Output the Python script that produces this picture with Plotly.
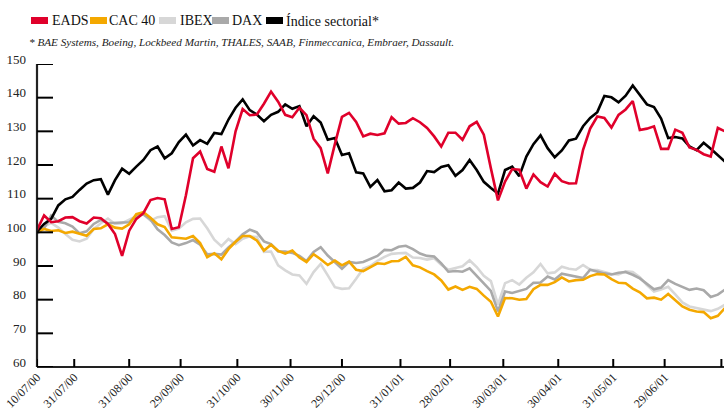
import pandas as pd
import plotly.graph_objects as go

# ---------------- data (4-day sampling) ----------------
start_date = "2000-07-10"
n_points = 98

eads = [100.7, 105.0, 103.0, 103.3, 104.4, 104.5, 103.3, 102.6, 104.4, 104.2,
        102.5, 99.5, 93.0, 100.5, 104.0, 105.7, 109.6, 110.2, 109.8, 101.0,
        101.5, 111.0, 122.0, 124.0, 118.8, 118.0, 125.5, 119.0, 130.0, 136.6,
        134.8, 135.0, 138.2, 141.8, 138.8, 134.9, 134.2, 137.0, 134.8, 127.8,
        125.0, 117.5, 126.2, 134.3, 135.5, 132.8, 128.5, 129.3, 128.9, 129.4,
        134.2, 132.3, 132.5, 133.9, 132.7, 131.0, 128.5, 125.5, 129.6, 129.6,
        127.5, 131.5, 132.8, 129.0, 119.0, 109.5, 115.1, 118.8, 118.6, 113.0,
        117.2, 114.9, 113.6, 117.4, 115.2, 114.5, 114.6, 124.5, 130.8, 134.4,
        134.0, 131.1, 134.9, 136.5, 139.0, 130.4, 130.8, 131.5, 124.8, 124.8,
        130.5, 129.6, 125.2, 124.5, 123.2, 122.5, 131.0, 130.0]

cac40 = [100.2, 101.0, 100.4, 100.6, 99.8, 100.2, 99.6, 99.0, 101.0, 101.2,
         102.4, 101.4, 101.1, 102.4, 105.4, 106.0, 104.3, 102.4, 101.6, 98.5,
         98.3, 98.1, 98.9, 96.8, 92.6, 93.8, 92.0, 95.0, 97.2, 98.9,
         98.9, 97.6, 94.6, 96.3, 94.5, 93.7, 94.6, 92.5, 91.2, 93.5,
         92.0, 90.3, 91.6, 90.2, 91.3, 88.9, 88.5, 89.6, 90.8, 90.6,
         91.4, 91.5, 92.7, 90.2, 89.6, 88.5, 87.5, 85.7, 83.0, 83.9,
         82.9, 83.8, 83.2, 81.2, 79.4, 75.0, 80.5, 80.4, 80.0, 80.2,
         83.1, 84.4, 84.4, 85.2, 86.6, 85.4, 85.8, 85.9, 87.0, 87.6,
         87.5, 86.1, 85.0, 84.9, 83.3, 82.2, 80.4, 80.6, 80.0, 81.7,
         79.9, 78.0, 77.0, 76.5, 76.3, 74.5, 75.2, 77.5]

ibex = [100.2, 101.7, 102.8, 101.4, 99.5, 97.8, 97.3, 98.1, 101.0, 102.7,
        104.1, 102.5, 102.7, 103.7, 104.8, 105.3, 103.5, 104.5, 104.8, 100.5,
        101.1, 103.0, 104.0, 104.1, 101.2, 97.8, 95.9, 98.0, 96.5, 98.1,
        98.8, 98.6, 94.2, 94.3, 90.2, 88.7, 87.5, 87.2, 84.7, 88.2,
        90.6, 87.2, 83.7, 83.2, 83.4, 86.2, 89.2, 90.0, 91.5, 92.7,
        93.6, 93.8, 93.9, 92.5, 92.4, 91.9, 92.3, 90.4, 88.9, 89.4,
        89.9, 91.7, 89.7, 87.1, 85.5, 78.5, 84.9, 85.8, 84.5, 86.5,
        88.1, 90.6, 87.8, 88.1, 89.8, 89.2, 88.9, 90.3, 88.9, 88.8,
        88.3, 87.6, 87.5, 88.4, 88.2, 86.7, 84.3, 82.4, 83.0, 83.8,
        81.6, 79.2, 78.0, 77.5, 77.1, 76.6, 77.3, 78.5]

dax = [99.7, 101.2, 105.0, 103.1, 102.7, 101.7, 99.7, 100.3, 102.5, 103.7,
       102.7, 102.7, 102.9, 103.0, 104.8, 105.4, 103.8, 100.9, 99.2, 97.0,
       96.2, 96.8, 97.7, 96.3, 93.5, 93.6, 93.4, 95.5, 97.3, 99.4,
       100.8, 100.0, 97.3, 96.5, 94.3, 94.3, 93.9, 93.0, 91.5, 94.2,
       95.6, 93.1, 91.0, 89.2, 91.2, 90.9, 91.2, 92.2, 93.0, 94.8,
       94.7, 95.7, 96.0, 95.0, 93.7, 93.0, 92.8, 90.8, 88.3, 88.5,
       88.3, 89.3, 87.1, 84.6, 82.6, 76.5, 82.4, 82.0, 82.5, 83.2,
       85.0, 85.1, 86.9, 86.0, 87.7, 87.2, 86.7, 86.4, 88.9, 88.3,
       87.8, 87.5, 88.0, 88.2, 87.4, 86.3, 84.7, 83.1, 83.6, 85.8,
       84.7, 83.7, 82.9, 83.3, 82.8, 80.8, 81.5, 83.0]

sector = [100.2, 102.5, 104.0, 108.0, 109.8, 110.5, 112.6, 114.5, 115.5, 115.8,
          111.2, 115.5, 118.9, 117.4, 119.5, 121.5, 124.4, 125.5, 122.0, 123.5,
          126.8, 129.0, 125.8, 127.4, 126.3, 129.5, 129.2, 133.5, 137.0, 139.5,
          136.3, 135.0, 133.0, 134.9, 135.8, 138.0, 136.7, 137.5, 131.5, 134.5,
          132.6, 127.5, 128.0, 123.0, 123.5, 117.8, 117.5, 113.5, 115.5, 112.2,
          112.5, 114.8, 113.0, 113.2, 114.8, 118.2, 117.9, 119.4, 119.9, 116.8,
          118.5, 121.5, 118.5, 115.0, 113.2, 111.5, 118.5, 119.5, 116.7, 122.5,
          126.2, 128.8, 125.0, 122.3, 124.3, 127.3, 127.8, 131.5, 134.0, 135.7,
          140.5, 140.1, 138.6, 140.6, 143.6, 140.8, 138.0, 137.2, 133.8, 128.0,
          128.3, 127.9, 125.5, 124.4, 126.6, 124.8, 123.0, 121.0]

tick_dates = ["2000-07-10", "2000-07-31", "2000-08-31", "2000-09-29", "2000-10-31",
              "2000-11-30", "2000-12-29", "2001-01-31", "2001-02-28", "2001-03-30",
              "2001-04-30", "2001-05-31", "2001-06-29", "2001-07-31"]
tick_labels = ["10/07/00", "31/07/00", "31/08/00", "29/09/00", "31/10/00",
               "30/11/00", "29/12/00", "31/01/01", "28/02/01", "30/03/01",
               "30/04/01", "31/05/01", "29/06/01", "31/07/01"]

y_ticks = [60, 70, 80, 90, 100, 110, 120, 130, 140, 150]

series_names = ["EADS", "CAC 40", "IBEX", "DAX", "Índice sectorial*"]
footnote = "* BAE Systems, Boeing, Lockbeed Martin, THALES, SAAB, Finmeccanica, Embraer, Dassault."

# ---------------- styling ----------------
RED = "#e0002b"
ORANGE = "#f4a800"
LIGHT = "#d7d7d7"
MID = "#a9a9a9"
BLACK = "#000000"
FONT = "Liberation Serif"

W, H = 724, 412
ML, MR, MT, MB = 37, 0, 64, 45
PW, PH = W - ML - MR, H - MT - MB

dates = pd.date_range(start_date, periods=n_points, freq="4D")

fig = go.Figure()
order = [(ibex, LIGHT, "IBEX"), (dax, MID, "DAX"), (cac40, ORANGE, "CAC 40"),
         (sector, BLACK, "Índice sectorial*"), (eads, RED, "EADS")]
for vals, col, name in order:
    fig.add_trace(go.Scatter(x=dates, y=vals, mode="lines", name=name,
                             line=dict(color=col, width=2.6), showlegend=False))


def px_x(px):
    return (px - ML) / PW


def px_y(py):
    return (H - MB - py) / PH


shapes = []
annotations = []

# axis lines and inside tick marks
AX = "#222222"
shapes.append(dict(type="line", xref="paper", yref="paper", x0=0, x1=0, y0=0, y1=1,
                   line=dict(color=AX, width=2.2)))
shapes.append(dict(type="line", xref="paper", yref="paper", x0=0, x1=1, y0=0, y1=0,
                   line=dict(color=AX, width=2.2)))
for v in y_ticks:
    shapes.append(dict(type="line", xref="paper", yref="y", x0=0, x1=16 / PW, y0=v, y1=v,
                       line=dict(color="#000", width=2)))
for d in tick_dates:
    shapes.append(dict(type="line", xref="x", yref="paper", x0=d, x1=d, y0=0, y1=8 / PH,
                       line=dict(color="#000", width=2)))

# manual legend (rectangular swatches + text)
legend_items = [(series_names[0], RED, 31, 50), (series_names[1], ORANGE, 90, 107),
                (series_names[2], LIGHT, 159, 178), (series_names[3], MID, 212, 230),
                (series_names[4], BLACK, 266, 284)]
for name, col, sx, tx in legend_items:
    shapes.append(dict(type="rect", xref="paper", yref="paper",
                       x0=px_x(sx), x1=px_x(sx + 17), y0=px_y(24), y1=px_y(17),
                       fillcolor=col, line=dict(width=0)))
    annotations.append(dict(text=name, xref="paper", yref="paper", x=px_x(tx), y=px_y(20.5),
                            xanchor="left", yanchor="middle", showarrow=False,
                            font=dict(family=FONT, size=14, color="#111")))
annotations.append(dict(text="<i>" + footnote + "</i>", xref="paper", yref="paper",
                        x=px_x(27), y=px_y(42), xanchor="left", yanchor="middle",
                        showarrow=False, font=dict(family=FONT, size=11.2, color="#222")))

end_date = pd.Timestamp(start_date) + pd.Timedelta(days=PW / 1.773)

fig.update_layout(
    width=W, height=H,
    margin=dict(l=ML, r=MR, t=MT, b=MB, autoexpand=False),
    plot_bgcolor="white", paper_bgcolor="white",
    shapes=shapes, annotations=annotations,
    xaxis=dict(range=[pd.Timestamp(start_date), end_date], type="date",
               tickvals=tick_dates, ticktext=tick_labels, tickangle=-45,
               ticks="", showline=False,
               showgrid=False, zeroline=False, automargin=False,
               tickfont=dict(family=FONT, size=12, color="#222")),
    yaxis=dict(range=[60, 150], tickvals=y_ticks,
               ticks="", showline=False,
               showgrid=False, zeroline=False, automargin=False,
               ticklabelshift=-5, ticklabelstandoff=10,
               tickfont=dict(family=FONT, size=13, color="#222")),
)

fig.write_html("out.html", config={"displayModeBar": False},
               post_script="document.body.style.margin='0px';document.body.style.overflow='hidden';")
